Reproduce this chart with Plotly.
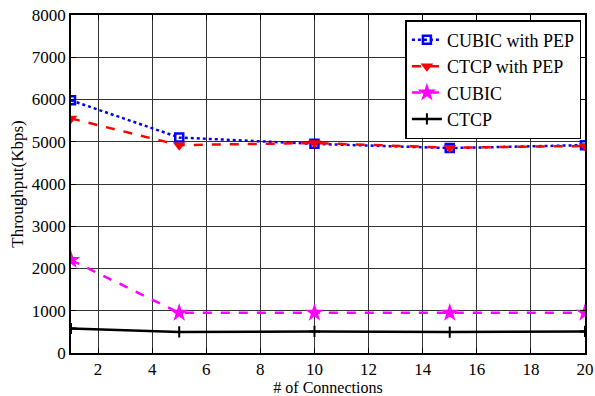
import plotly.graph_objects as go

connections = [1, 5, 10, 15, 20]
cubic_pep = [5980, 5100, 4950, 4850, 4920]
ctcp_pep = [5550, 4920, 4970, 4860, 4900]
cubic = [2200, 950, 950, 950, 950]
ctcp = [580, 500, 510, 495, 510]

x_ticks = [2, 4, 6, 8, 10, 12, 14, 16, 18, 20]
y_ticks = [0, 1000, 2000, 3000, 4000, 5000, 6000, 7000, 8000]

font = "Times New Roman, Liberation Serif, DejaVu Serif, serif"

fig = go.Figure()
fig.add_trace(go.Scatter(x=connections, y=cubic_pep, name="CUBIC with PEP", mode="lines+markers",
                         line=dict(color="#0000ff", dash="dot", width=2.5),
                         marker=dict(symbol="square-open", size=8, color="#0000ff", line=dict(width=2.5))))
fig.add_trace(go.Scatter(x=connections, y=ctcp_pep, name="CTCP with PEP", mode="lines+markers",
                         line=dict(color="#ff0000", dash="dash", width=2.5),
                         marker=dict(symbol="triangle-down", size=11, color="#ff0000")))
fig.add_trace(go.Scatter(x=connections, y=cubic, name="CUBIC", mode="lines+markers",
                         line=dict(color="#ff00ff", dash="dash", width=2.5),
                         marker=dict(symbol="star", size=14, color="#ff00ff")))
fig.add_trace(go.Scatter(x=connections, y=ctcp, name="CTCP", mode="lines+markers",
                         line=dict(color="#000000", width=2.5),
                         marker=dict(symbol="cross-thin-open", size=8, color="#000000", line=dict(width=2))))

fig.update_layout(
    width=595, height=396,
    margin=dict(l=71, r=10, t=15, b=43),
    paper_bgcolor="white", plot_bgcolor="white",
    font=dict(family=font, size=16, color="black"),
    showlegend=True,
    legend=dict(x=0.993, y=0.985, xanchor="right", yanchor="top",
                bgcolor="white", bordercolor="black", borderwidth=1.5,
                font=dict(family=font, size=18), tracegroupgap=0,
                itemwidth=30),
)
fig.update_xaxes(range=[1, 20], tickvals=x_ticks, showgrid=True, gridcolor="#333333", gridwidth=1,
                 showline=True, linecolor="black", linewidth=1.5, mirror="ticks",
                 ticks="inside", ticklen=5, tickcolor="black", zeroline=False, automargin=False,
                 ticklabeloverflow="allow", tickfont=dict(size=17),
                 title=dict(text="# of Connections", font=dict(family=font, size=16), standoff=2))
fig.update_yaxes(range=[0, 8000], tickvals=y_ticks, showgrid=True, gridcolor="#333333", gridwidth=1,
                 showline=True, linecolor="black", linewidth=1.5, mirror="ticks",
                 ticks="inside", ticklen=5, tickcolor="black", zeroline=False, automargin=False,
                 ticklabeloverflow="allow", tickfont=dict(size=17),
                 title=dict(text="Throughput(Kbps)", font=dict(family=font, size=17), standoff=4))

# Remove the browser's default 8px body margin so the figure sits at the window origin.
fig.write_html("out.html", config={"displayModeBar": False},
               post_script="document.body.style.margin='0';")
